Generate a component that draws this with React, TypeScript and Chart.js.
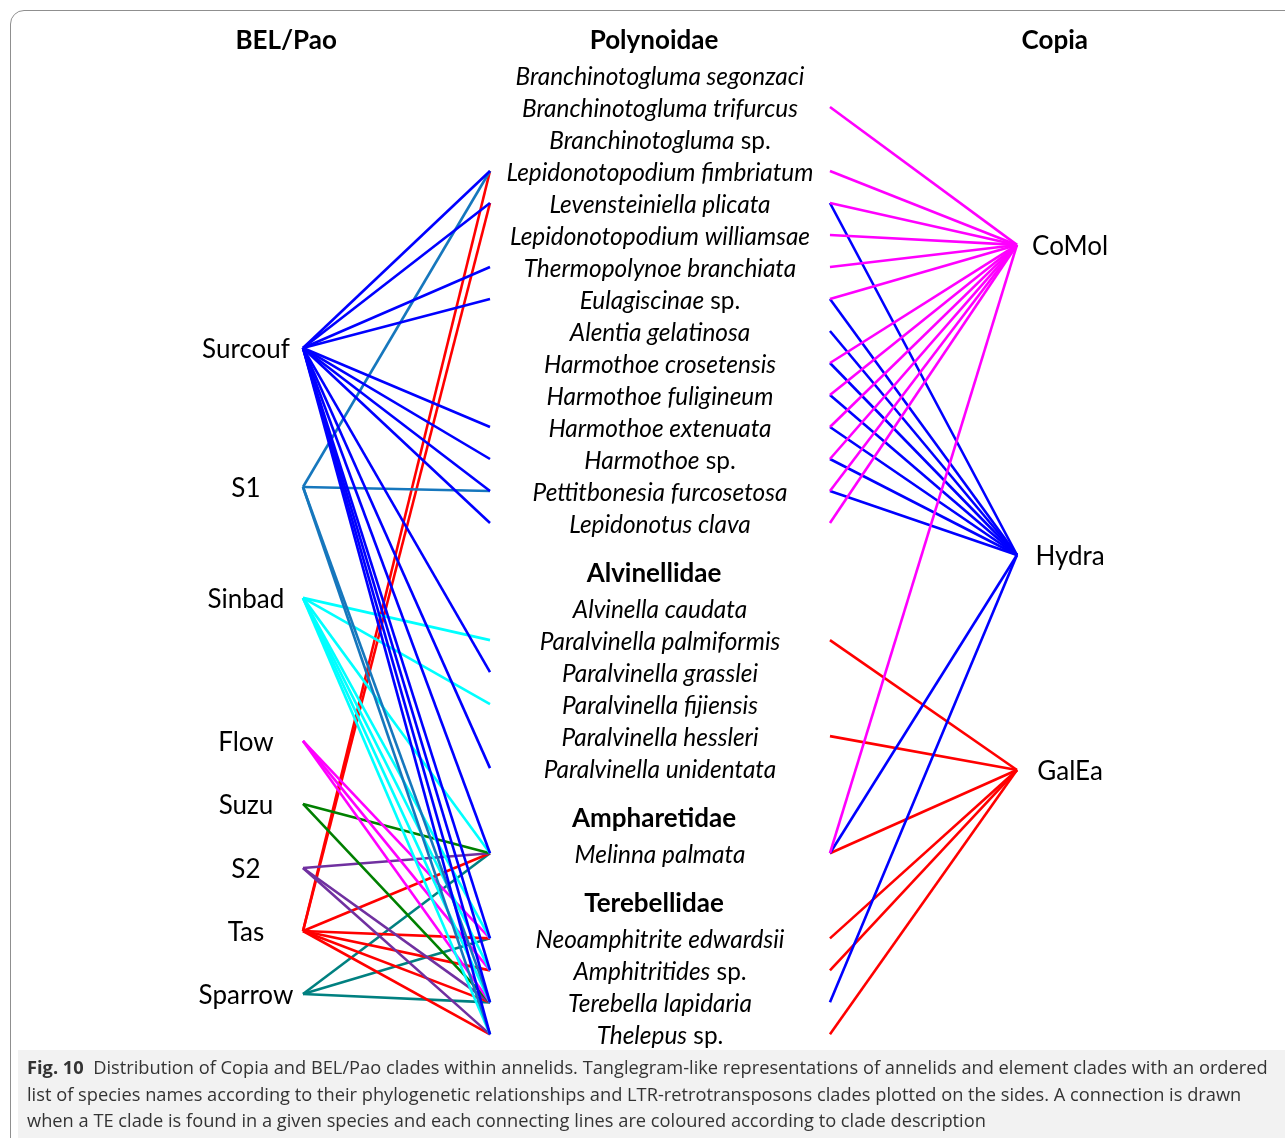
import React, { useEffect, useRef } from 'react';
import { Chart, registerables } from 'chart.js';

Chart.register(...registerables);

// ---------------- DATA ----------------
const leftTitle = 'BEL/Pao';
const rightTitle = 'Copia';
const leftClades = ['Surcouf', 'S1', 'Sinbad', 'Flow', 'Suzu', 'S2', 'Tas', 'Sparrow'];
const rightClades = ['CoMol', 'Hydra', 'GalEa'];
const families = ['Polynoidae', 'Alvinellidae', 'Ampharetidae', 'Terebellidae'];

const polynoidaeSpecies = [
  'Branchinotogluma segonzaci', 'Branchinotogluma trifurcus', 'Branchinotogluma sp.',
  'Lepidonotopodium fimbriatum', 'Levensteiniella plicata', 'Lepidonotopodium williamsae',
  'Thermopolynoe branchiata', 'Eulagiscinae sp.', 'Alentia gelatinosa', 'Harmothoe crosetensis',
  'Harmothoe fuligineum', 'Harmothoe extenuata', 'Harmothoe sp.', 'Pettitbonesia furcosetosa',
  'Lepidonotus clava',
];
const alvinellidaeSpecies = [
  'Alvinella caudata', 'Paralvinella palmiformis', 'Paralvinella grasslei',
  'Paralvinella fijiensis', 'Paralvinella hessleri', 'Paralvinella unidentata',
];
const ampharetidaeSpecies = ['Melinna palmata'];
const terebellidaeSpecies = ['Neoamphitrite edwardsii', 'Amphitritides sp.', 'Terebella lapidaria', 'Thelepus sp.'];

// BEL/Pao clade -> species links
const surcoufLinks = [
  'Lepidonotopodium fimbriatum', 'Levensteiniella plicata', 'Thermopolynoe branchiata', 'Eulagiscinae sp.',
  'Harmothoe extenuata', 'Harmothoe sp.', 'Pettitbonesia furcosetosa', 'Lepidonotus clava',
  'Paralvinella grasslei', 'Paralvinella unidentata', 'Melinna palmata', 'Neoamphitrite edwardsii',
  'Amphitritides sp.', 'Terebella lapidaria', 'Thelepus sp.',
];
const s1Links = ['Lepidonotopodium fimbriatum', 'Pettitbonesia furcosetosa', 'Terebella lapidaria', 'Thelepus sp.'];
const sinbadLinks = [
  'Paralvinella palmiformis', 'Paralvinella fijiensis', 'Melinna palmata', 'Neoamphitrite edwardsii',
  'Amphitritides sp.', 'Terebella lapidaria', 'Thelepus sp.',
];
const flowLinks = ['Neoamphitrite edwardsii', 'Amphitritides sp.', 'Terebella lapidaria'];
const suzuLinks = ['Melinna palmata', 'Terebella lapidaria'];
const s2Links = ['Melinna palmata', 'Terebella lapidaria', 'Thelepus sp.'];
const tasLinks = [
  'Lepidonotopodium fimbriatum', 'Levensteiniella plicata', 'Melinna palmata', 'Neoamphitrite edwardsii',
  'Amphitritides sp.', 'Terebella lapidaria', 'Thelepus sp.',
];
const sparrowLinks = ['Melinna palmata', 'Neoamphitrite edwardsii', 'Terebella lapidaria'];

// Copia clade -> species links
const comolLinks = [
  'Branchinotogluma trifurcus', 'Lepidonotopodium fimbriatum', 'Levensteiniella plicata',
  'Lepidonotopodium williamsae', 'Thermopolynoe branchiata', 'Eulagiscinae sp.', 'Harmothoe crosetensis',
  'Harmothoe fuligineum', 'Harmothoe extenuata', 'Harmothoe sp.', 'Pettitbonesia furcosetosa',
  'Lepidonotus clava', 'Melinna palmata',
];
const hydraLinks = [
  'Levensteiniella plicata', 'Eulagiscinae sp.', 'Alentia gelatinosa', 'Harmothoe crosetensis',
  'Harmothoe fuligineum', 'Harmothoe extenuata', 'Harmothoe sp.', 'Pettitbonesia furcosetosa',
  'Melinna palmata', 'Terebella lapidaria',
];
const galeaLinks = [
  'Paralvinella palmiformis', 'Paralvinella hessleri', 'Melinna palmata', 'Neoamphitrite edwardsii',
  'Amphitritides sp.', 'Thelepus sp.',
];

const captionLabel = 'Fig. 10';
const captionLines = [
  'Distribution of Copia and BEL/Pao clades within annelids. Tanglegram-like representations of annelids and element clades with an ordered',
  'list of species names according to their phylogenetic relationships and LTR-retrotransposons clades plotted on the sides. A connection is drawn',
  'when a TE clade is found in a given species and each connecting lines are coloured according to clade description',
];

// ---------------- LAYOUT / STYLE ----------------
const W = 1285;
const H = 1138;
const familySpecies = [polynoidaeSpecies, alvinellidaeSpecies, ampharetidaeSpecies, terebellidaeSpecies];
const leftLinkSets = [surcoufLinks, s1Links, sinbadLinks, flowLinks, suzuLinks, s2Links, tasLinks, sparrowLinks];
const rightLinkSets = [comolLinks, hydraLinks, galeaLinks];
const leftColors = ['#0000ff', '#1677bd', '#00ffff', '#ff00ff', '#008000', '#7030a0', '#ff0000', '#008080'];
const rightColors = ['#ff00ff', '#0000ff', '#ff0000'];
const LAYOUT = {
  familyGap: 2.66,
  headerOffset: 1.15,
  leftCladeRows: [8.53, 12.875, 16.34, 20.81, 22.78, 24.78, 26.75, 28.72],
  rightCladeRows: [5.31, 15.0, 21.72],
  colLeftNode: 0,
  colSpLeft: 1,
  colSpRight: 2.818,
  colRightNode: 3.818,
  colSpText: 1.909,
  colFamText: 1.877,
  colLeftText: -0.305,
  colRightText: 4.102,
  colLeftTitle: -0.09,
  colRightTitle: 4.02,
  titleRow: -1.125,
  textShift: 2,
  xMin: -1.6203,
  xMax: 5.2513,
  yMin: -2.34375,
  yMax: 33.21875,
};

function buildRows() {
  const rows: Record<string, number> = {};
  const famRows: number[] = [];
  let r = 0;
  familySpecies.forEach((list, fi) => {
    if (fi > 0) r += LAYOUT.familyGap;
    famRows.push(fi === 0 ? LAYOUT.titleRow : r - LAYOUT.headerOffset);
    list.forEach((s, i) => {
      rows[s] = r;
      if (i < list.length - 1) r += 1;
    });
  });
  return { rows, famRows };
}

export default function App() {
  const ref = useRef<HTMLCanvasElement | null>(null);

  useEffect(() => {
    const canvas = ref.current;
    if (!canvas) return;
    const { rows, famRows } = buildRows();
    const datasets: any[] = [];
    leftLinkSets.forEach((links, ci) => {
      links.forEach((sp) => {
        datasets.push({
          data: [
            { x: LAYOUT.colLeftNode, y: LAYOUT.leftCladeRows[ci] },
            { x: LAYOUT.colSpLeft, y: rows[sp] },
          ],
          showLine: true,
          borderColor: leftColors[ci],
          borderWidth: 2.6,
          pointRadius: 0,
          tension: 0,
          fill: false,
        });
      });
    });
    rightLinkSets.forEach((links, ci) => {
      links.forEach((sp) => {
        datasets.push({
          data: [
            { x: LAYOUT.colSpRight, y: rows[sp] },
            { x: LAYOUT.colRightNode, y: LAYOUT.rightCladeRows[ci] },
          ],
          showLine: true,
          borderColor: rightColors[ci],
          borderWidth: 2.6,
          pointRadius: 0,
          tension: 0,
          fill: false,
        });
      });
    });

    const labelPlugin = {
      id: 'tangleLabels',
      afterDatasetsDraw(chart: any) {
        const ctx = chart.ctx as CanvasRenderingContext2D;
        const xs = chart.scales.x;
        const ys = chart.scales.y;
        const px = (c: number) => xs.getPixelForValue(c);
        const py = (r: number) => ys.getPixelForValue(r) + LAYOUT.textShift;
        ctx.save();
        ctx.fillStyle = '#000';
        ctx.textBaseline = 'middle';
        ctx.textAlign = 'center';
        ctx.font = 'bold 26px Lato';
        ctx.fillText(leftTitle, px(LAYOUT.colLeftTitle), py(LAYOUT.titleRow));
        ctx.fillText(rightTitle, px(LAYOUT.colRightTitle), py(LAYOUT.titleRow));
        families.forEach((f, i) => ctx.fillText(f, px(LAYOUT.colFamText), py(famRows[i])));
        ctx.font = '26px Lato';
        leftClades.forEach((c, i) => ctx.fillText(c, px(LAYOUT.colLeftText), py(LAYOUT.leftCladeRows[i])));
        rightClades.forEach((c, i) => ctx.fillText(c, px(LAYOUT.colRightText), py(LAYOUT.rightCladeRows[i])));
        // species
        const cx = px(LAYOUT.colSpText);
        const fs = 24.4;
        Object.keys(rows).forEach((sp) => {
          const y = py(rows[sp]);
          let it = sp;
          let rm = '';
          if (sp.endsWith(' sp.')) {
            it = sp.slice(0, -4);
            rm = ' sp.';
          }
          ctx.font = `italic ${fs}px Lato`;
          const w1 = ctx.measureText(it).width;
          ctx.font = `${fs}px Lato`;
          const w2 = rm ? ctx.measureText(rm).width : 0;
          const x0 = cx - (w1 + w2) / 2;
          ctx.textAlign = 'left';
          ctx.font = `italic ${fs}px Lato`;
          ctx.fillText(it, x0, y);
          if (rm) {
            ctx.font = `${fs}px Lato`;
            ctx.fillText(rm, x0 + w1, y);
          }
        });
        ctx.restore();
      },
    };

    const chart = new Chart(canvas, {
      type: 'scatter',
      data: { datasets },
      options: {
        animation: false,
        responsive: false,
        maintainAspectRatio: false,
        events: [],
        layout: { padding: 0 },
        plugins: { legend: { display: false }, tooltip: { enabled: false } },
        scales: {
          x: { type: 'linear', min: LAYOUT.xMin, max: LAYOUT.xMax, display: false },
          y: { type: 'linear', min: LAYOUT.yMin, max: LAYOUT.yMax, reverse: true, display: false },
        },
      } as any,
      plugins: [labelPlugin as any],
    });
    return () => chart.destroy();
  }, []);

  return (
    <div style={{ position: 'absolute', left: 0, top: 0, width: W, height: H, overflow: 'hidden', background: '#fff' }}>
      <div
        style={{
          position: 'absolute', left: 10, top: 10, width: 1300, height: 1200,
          border: '1.5px solid #8f8f8f', borderRadius: 14, boxSizing: 'border-box',
        }}
      />
      <div style={{ position: 'absolute', left: 18, top: 1050, width: 1280, height: 100, background: '#f2f2f2' }} />
      <canvas ref={ref} width={W} height={H} style={{ position: 'absolute', left: 0, top: 0, display: 'block' }} />
      <div
        style={{
          position: 'absolute', left: 27, top: 1054, whiteSpace: 'nowrap', color: '#333',
          fontFamily: "'Open Sans', sans-serif", fontSize: 18.25, lineHeight: '26.5px',
        }}
      >
        <b>{captionLabel}</b>&nbsp;&nbsp;{captionLines[0]}
        <br />
        {captionLines[1]}
        <br />
        {captionLines[2]}
      </div>
    </div>
  );
}
